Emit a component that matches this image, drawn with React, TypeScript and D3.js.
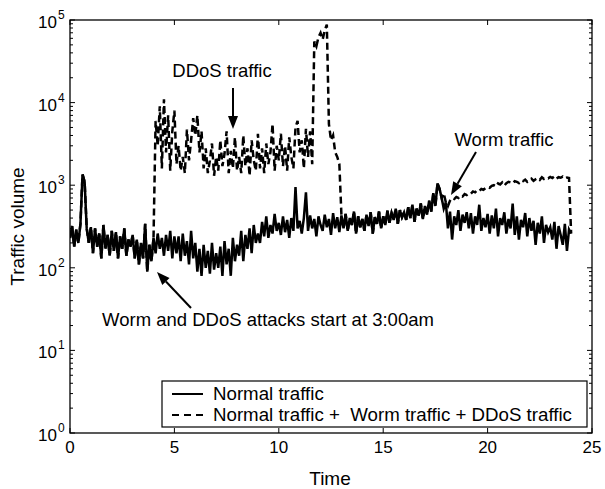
import React from "react";
import * as d3 from "d3";

// Normal traffic, sampled every 0.1 h from t = 0.0 to t = 24.0
const normalTraffic: number[] = [
  230, 320, 180, 290, 200, 340, 1350, 1100, 300, 200, 310,
  150, 300, 180, 260, 130, 330, 170, 250, 140, 280,
  160, 270, 130, 240, 170, 300, 140, 220, 180, 250,
  130, 220, 110, 200, 130, 340, 90, 190, 120, 230,
  150, 260, 170, 230, 140, 250, 160, 280, 130, 240,
  150, 240, 120, 260, 140, 210, 110, 280, 130, 200,
  90, 170, 80, 190, 100, 160, 85, 200, 95, 150,
  100, 180, 80, 210, 110, 170, 80, 230, 120, 190,
  140, 280, 120, 250, 170, 300, 150, 330, 200, 260,
  200, 360, 240, 420, 230, 330, 260, 450, 280, 350,
  250, 420, 270, 380, 230, 400, 280, 950, 300, 370,
  260, 400, 820, 280, 430, 300, 390, 240, 420, 330,
  280, 440, 310, 390, 250, 460, 300, 410, 270, 430,
  300, 450, 280, 400, 330, 480, 260, 420, 310, 390,
  280, 440, 320, 470, 260, 410, 340, 480, 300, 420,
  330, 490, 350, 460, 380, 520, 340, 500, 410, 470,
  380, 540, 400, 580, 360, 520, 430, 600, 390, 560,
  440, 650, 480, 800, 560, 1050, 900, 700, 520, 620,
  300, 480, 220, 420, 330, 500, 280, 440, 350, 470,
  300, 460, 260, 420, 330, 580, 280, 400, 310, 450,
  260, 430, 300, 520, 240, 400, 330, 470, 260, 390,
  300, 600, 250, 420, 220, 380, 310, 460, 240, 400,
  280, 370, 190, 350, 260, 420, 200, 330, 270, 310,
  220, 360, 170, 320, 250, 190, 340, 160, 290, 260,
];
const sampleStep = 0.1;

// DDoS attack period (traffic with attack), t = 4.1 .. 12.9
const ddosStart = 4.1;
const ddosTraffic: number[] = [
  6000, 3000, 9000, 1600, 11000, 2500, 7000, 1500, 4500, 8000,
  1800, 3000, 1500, 2200, 1400, 4700, 2000, 3500, 6500, 4000,
  7000, 2500, 4500, 1600, 2800, 1400, 2000, 3200, 1300, 2200,
  1500, 3500, 1700, 2400, 4500, 1400, 2600, 1600, 3800, 1500,
  2200, 1400, 4000, 1700, 2800, 1300, 3500, 2000, 1500, 4200,
  1600, 2800, 1400, 3200, 1800, 2500, 5500, 1500, 3000, 2000,
  4200, 1700, 3000, 1500, 3800, 2200, 1600, 5000, 6000, 2500,
  3500, 1600, 4800, 2200, 4500, 1800,
  55000, 48000, 62000, 70000, 58000, 75000, 88000,
  5500, 3500, 4000, 2500, 2200, 1800,
];

// Worm period (traffic with worm), t = 17.9 .. 23.9
const wormStart = 17.9;
const wormTraffic: number[] = [
  800, 620,
  560, 650, 700, 680, 720, 700, 750, 730, 780, 760,
  800, 790, 840, 820, 870, 850, 900, 880, 920, 950,
  930, 980, 1000, 960, 1050, 1020, 1080, 990, 1060, 1100,
  1080, 1050, 1120, 1100, 1060, 1140, 1120, 1170, 1100, 1150,
  1200, 1130, 1180, 1220, 1160, 1250, 1190, 1230, 1210, 1260,
  1220, 1280, 1200, 1250, 1230, 1270, 1210, 1240, 1220,
];

const xTicks = [0, 5, 10, 15, 20, 25];
const yDecades = [0, 1, 2, 3, 4, 5];

const legendLabels = ["Normal traffic", "Normal traffic +  Worm traffic + DDoS traffic"];

const W = 605;
const H = 489;
const left = 70, right = 592, top = 20, bottom = 433;
const FONT = "Liberation Sans, Arial, Helvetica, sans-serif";

type Pt = [number, number];

export default function App() {
  const x = d3.scaleLinear().domain([0, 25]).range([left, right]);
  const y = d3.scaleLog().domain([1, 1e5]).range([bottom, top]);

  const idx = (t: number) => Math.round(t / sampleStep);
  const normalPts: Pt[] = normalTraffic.map((v, i) => [i * sampleStep, v]);

  const attackPts: Pt[] = normalPts.map(([t, v]) => {
    const di = idx(t) - idx(ddosStart);
    if (di >= 0 && di < ddosTraffic.length) return [t, ddosTraffic[di]];
    const wi = idx(t) - idx(wormStart);
    if (wi >= 0 && wi < wormTraffic.length) return [t, wormTraffic[wi]];
    return [t, v];
  });

  const line = d3
    .line<Pt>()
    .x((d) => x(d[0]))
    .y((d) => y(d[1]));

  const minorTicks: number[] = [];
  for (let e = 0; e < 5; e++) {
    for (let m = 2; m <= 9; m++) minorTicks.push(m * Math.pow(10, e));
  }

  const arrow = (x1: number, y1: number, x2: number, y2: number, key: string) => {
    const ang = Math.atan2(y2 - y1, x2 - x1);
    const L = 13, Wd = 5;
    const bx = x2 - L * Math.cos(ang), by = y2 - L * Math.sin(ang);
    const px = -Math.sin(ang) * Wd, py = Math.cos(ang) * Wd;
    return (
      <g key={key}>
        <line x1={x1} y1={y1} x2={bx} y2={by} stroke="#000" strokeWidth={2} />
        <polygon points={`${x2},${y2} ${bx + px},${by + py} ${bx - px},${by - py}`} fill="#000" />
      </g>
    );
  };

  return (
    <svg
      width={W}
      height={H}
      style={{ position: "absolute", left: 0, top: 0, background: "#fff" }}
      fontFamily={FONT}
    >
      <rect x={0} y={0} width={W} height={H} fill="#fff" />
      <defs>
        <clipPath id="plotclip">
          <rect x={left} y={top} width={right - left} height={bottom - top} />
        </clipPath>
      </defs>

      <g clipPath="url(#plotclip)">
        <path d={line(attackPts) || ""} fill="none" stroke="#000" strokeWidth={2.5} strokeDasharray="7,4" />
        <path d={line(normalPts) || ""} fill="none" stroke="#000" strokeWidth={2.5} strokeLinejoin="miter" />
      </g>

      {/* frame */}
      <rect x={left} y={top} width={right - left} height={bottom - top} fill="none" stroke="#000" strokeWidth={1.3} />

      {/* x ticks */}
      {xTicks.map((t) => (
        <g key={"xt" + t}>
          <line x1={x(t)} x2={x(t)} y1={bottom} y2={bottom - 5} stroke="#000" />
          <line x1={x(t)} x2={x(t)} y1={top} y2={top + 5} stroke="#000" />
          <text x={x(t)} y={bottom + 20} fontSize={17} textAnchor="middle">
            {t}
          </text>
        </g>
      ))}

      {/* y ticks */}
      {yDecades.map((e) => {
        const yy = y(Math.pow(10, e));
        return (
          <g key={"yt" + e}>
            <line x1={left} x2={left + 5} y1={yy} y2={yy} stroke="#000" />
            <line x1={right} x2={right - 5} y1={yy} y2={yy} stroke="#000" />
            <text x={57} y={yy + 8} fontSize={17} textAnchor="end">
              10
            </text>
            <text x={58} y={yy - 1} fontSize={12} textAnchor="start">
              {e}
            </text>
          </g>
        );
      })}
      {minorTicks.map((v) => (
        <g key={"mt" + v}>
          <line x1={left} x2={left + 3} y1={y(v)} y2={y(v)} stroke="#000" />
          <line x1={right} x2={right - 3} y1={y(v)} y2={y(v)} stroke="#000" />
        </g>
      ))}

      {/* axis labels */}
      <text x={(left + right) / 2 - 1} y={485} fontSize={19} textAnchor="middle">
        Time
      </text>
      <text
        transform={`translate(24,${(top + bottom) / 2}) rotate(-90)`}
        fontSize={19}
        textAnchor="middle"
      >
        Traffic volume
      </text>

      {/* annotations */}
      <text x={222} y={77} fontSize={18.5} textAnchor="middle">
        DDoS traffic
      </text>
      {arrow(233, 88, 233, 129, "a1")}
      <text x={504} y={146} fontSize={18.5} textAnchor="middle">
        Worm traffic
      </text>
      {arrow(476, 152, 451, 195, "a2")}
      <text x={268} y={326} fontSize={18.5} textAnchor="middle">
        Worm and DDoS attacks start at 3:00am
      </text>
      {arrow(191, 308, 157, 272, "a3")}

      {/* legend */}
      <rect x={162} y={381} width={425} height={46} fill="#fff" stroke="#000" strokeWidth={1.2} />
      <line x1={172} x2={203} y1={394} y2={394} stroke="#000" strokeWidth={2} />
      <line x1={172} x2={205} y1={415} y2={415} stroke="#000" strokeWidth={2} strokeDasharray="7,5" />
      <text x={213} y={400} fontSize={18.7}>
        {legendLabels[0]}
      </text>
      <text x={213} y={421} fontSize={18.7} style={{ whiteSpace: "pre" }}>
        {legendLabels[1]}
      </text>
    </svg>
  );
}
